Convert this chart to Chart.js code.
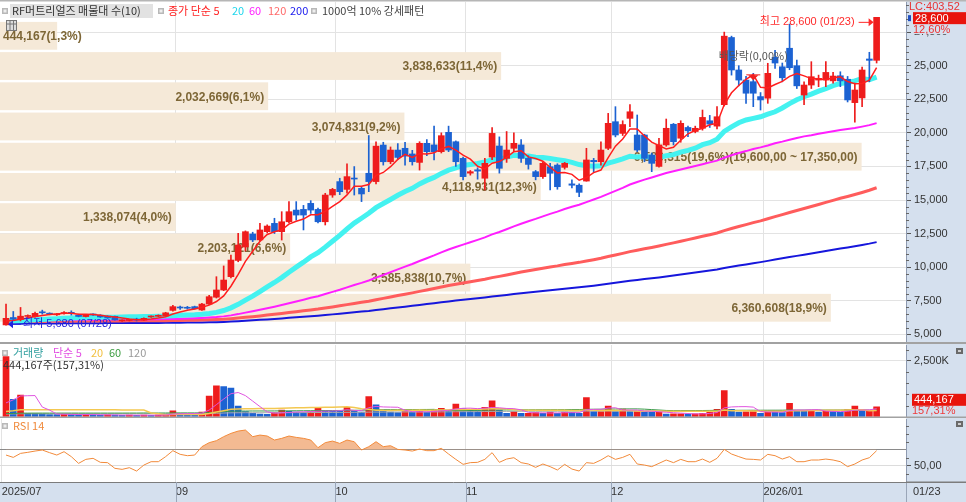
<!DOCTYPE html>
<html><head><meta charset="utf-8"><title>RF머트리얼즈</title>
<script src="https://cdn.jsdelivr.net/npm/chart.js@4.4.1/dist/chart.umd.min.js"></script>
<style>
html,body{margin:0;padding:0;background:#fff;overflow:hidden}
#wrap{position:relative;width:966px;height:502px;background:#fff}
#wrap canvas{position:absolute;left:0}
</style></head><body>
<div id="wrap">
<canvas id="cMain" width="966" height="344" style="top:0"></canvas>
<canvas id="cVol" width="966" height="74" style="top:344px"></canvas>
<canvas id="cRsi" width="966" height="84" style="top:418px"></canvas>
</div>
<script>
// ---------------- DATA ----------------
const monthLabels = ['2025/07','09','10','11','12','2026/01'];
const monthStart  = [0,24,46,64,84,105];
const priceTicks  = [5000,7500,10000,12500,15000,17500,20000,22500,25000,27500];
const volTicks    = [2500];
const rsiTicks    = [50,70];
const lowDate = '07/28', highDate = '01/23';
const exDivIndex = 103;

const open = [
5700,6250,6100,6330,6310,6640,6560,6450,6540,6600,
6440,6320,6480,6420,6350,6340,6000,6030,6090,6060,
6290,6340,6370,6780,7000,6990,7060,6810,7250,7760,
8300,9290,10500,11500,12470,12030,12640,13260,12640,13380,
14250,14300,14750,14300,13380,15370,16370,15790,16620,15870,
16990,16370,19090,17850,18720,18850,18430,17800,19220,19100,
18600,20040,19340,18100,17000,17250,16620,18200,19020,18100,
18850,19100,18100,17110,16740,17480,17600,17430,16200,16100,
16410,17950,17850,18850,20830,19960,21080,19840,19840,18350,
17500,19100,20640,19600,20400,20100,20340,20900,20500,22100,
27100,24680,23930,23810,22700,22580,25620,24920,26300,25000,
22820,23560,23930,23930,23870,24250,23990,22250,22600,25500,
25400];
const high = [
7250,6700,7000,6450,6650,6800,6600,6550,6700,6750,
6500,6480,6520,6460,6380,6360,6080,6120,6200,6220,
6380,6450,6640,7150,7100,7080,7100,7300,7900,9290,
10090,10900,12520,12700,12600,13260,13150,13640,14130,14880,
14880,14600,14950,14400,15500,15870,16620,17690,17490,16000,
19800,19340,19300,18950,19200,19300,18700,19340,19500,20500,
20000,20500,19400,18200,17200,17400,18100,20400,19700,20100,
20000,19500,18300,17200,17800,17730,17700,17800,16500,16200,
18850,18100,19340,21450,21950,20900,22100,21330,19900,18500,
19600,21030,20700,20900,20500,20500,21700,21300,21950,27500,
27200,25000,24200,24430,23000,25180,26150,25200,28100,25420,
23800,25300,24300,25300,24500,24550,24200,23700,24900,26000,
28600];
const low = [
5680,6050,6000,6250,6280,6500,6450,6400,6500,6430,
6300,6290,6400,6260,6180,6050,5960,5990,5990,6040,
6250,6300,6340,6720,6850,6880,6880,6780,7200,7700,
8250,9200,10400,11200,11900,11950,12550,12500,12020,13300,
13500,12770,14000,13300,13140,15200,15400,15500,15370,14880,
15620,16200,17600,17700,18000,17600,17600,17230,18300,17980,
18500,18600,17500,16500,16850,16550,15750,18000,17000,17800,
18600,17800,17300,16500,16600,15750,15800,17300,15900,15250,
16400,17050,17600,18750,19700,19800,20460,18600,17850,17110,
17450,19000,19100,19300,19720,20000,20200,20400,20300,22000,
24300,23500,22200,21950,21700,22200,24800,23800,24700,23300,
22100,23300,23440,23440,23700,23440,22300,20800,21950,23800,
25200];
const close = [
6190,6120,6350,6380,6560,6600,6500,6500,6620,6560,
6330,6440,6440,6290,6220,6070,6030,6080,6060,6190,
6330,6370,6600,7060,6960,6940,6900,7250,7800,8300,
9040,10530,11650,12640,12030,12770,13060,12640,13380,14130,
13880,13880,14250,13380,15370,15790,15620,16740,16560,15450,
16370,19010,17850,18720,18170,18270,17850,19220,18600,18600,
19790,18720,17850,16740,17110,17150,17730,19960,17360,18720,
19220,18100,17650,16740,17730,16990,15990,17730,16100,15570,
17980,17850,18720,20710,19840,20620,21570,18720,18100,17730,
19100,20340,19340,20710,20150,20340,21150,20650,21200,27200,
24680,23930,22950,22950,22450,24430,25200,24100,24850,23500,
23560,24180,24060,24500,24230,23870,22450,23190,24680,25400,
28600];
const ma5 = [
5990,6030,6120,6210,6320,6400,6480,6510,6560,6560,
6500,6490,6480,6410,6340,6290,6210,6140,6090,6090,
6140,6210,6310,6510,6660,6790,6890,7020,7170,7440,
7860,8580,9460,10430,11180,11920,12430,12630,12780,13200,
13420,13580,13900,13900,14150,14530,14880,15380,16020,16030,
16150,16830,17050,17480,18020,18400,18170,18450,18420,18510,
18810,18990,18710,18340,18040,17510,17320,17740,17860,18180,
18600,18670,18210,18090,17890,17440,17020,17040,16910,16470,
16670,17040,17230,18160,19010,19540,20290,20290,19770,19310,
19050,18800,18930,19450,19930,20170,20340,20600,20700,22110,
22980,23530,23990,24340,23390,23340,23600,23830,24210,24420,
24240,24040,24030,23960,24110,24170,23820,23650,23680,23920,
24860];
const ma20 = [
5960,5990,6015,6050,6085,6110,6140,6160,6190,6215,
6225,6240,6260,6265,6270,6275,6285,6300,6310,6330,
6330,6350,6360,6390,6410,6430,6450,6490,6550,6630,
6770,6970,7230,7550,7840,8180,8530,8860,9220,9620,
10000,10370,10760,11070,11490,11930,12370,12840,13280,13640,
14010,14430,14740,15040,15350,15630,15870,16200,16460,16680,
16980,17220,17400,17570,17650,17720,17830,17990,18030,18190,
18330,18290,18280,18180,18160,18090,18000,17920,17800,17640,
17550,17510,17550,17750,17900,18070,18260,18200,18230,18180,
18170,18290,18380,18570,18700,18860,19120,19270,19520,20110,
20440,20750,20960,21080,21200,21390,21570,21850,22180,22470,
22690,22880,23110,23300,23510,23680,23750,23870,24050,23960,
24150];
const ma60 = [
6003,6005,6011,6017,6027,6037,6045,6053,6064,6073,
6079,6086,6093,6098,6102,6103,6103,6105,6106,6109,
6114,6121,6131,6148,6164,6180,6195,6216,6246,6284,
6335,6410,6504,6615,6716,6828,6946,7057,7180,7315,
7447,7578,7715,7838,7995,8158,8318,8497,8673,8831,
9003,9220,9418,9630,9833,10037,10235,10455,10665,10875,
11102,11312,11503,11676,11852,12028,12215,12439,12618,12821,
13036,13230,13417,13591,13783,13965,14131,14325,14492,14647,
14842,15033,15235,15462,15679,15908,16152,16343,16517,16676,
16844,17007,17137,17272,17407,17533,17668,17802,17932,18150,
18330,18497,18642,18802,18920,19064,19224,19346,19484,19619,
19738,19825,19928,20024,20125,20219,20295,20362,20463,20576,
20723];
const ma120 = [
5940,5942,5945,5949,5954,5959,5964,5969,5974,5980,
5983,5987,5991,5994,5997,5998,5998,6000,6001,6003,
6006,6010,6015,6024,6033,6041,6049,6060,6076,6096,
6121,6160,6207,6263,6314,6371,6430,6486,6548,6616,
6682,6749,6818,6880,6959,7041,7121,7211,7300,7379,
7466,7575,7674,7781,7883,7985,8085,8195,8301,8406,
8522,8628,8728,8818,8911,9004,9102,9219,9314,9421,
9532,9633,9731,9821,9919,10011,10095,10193,10278,10357,
10458,10557,10664,10787,10904,11026,11156,11263,11365,11465,
11574,11694,11807,11930,12048,12168,12295,12418,12545,12722,
12878,13028,13170,13312,13449,13604,13764,13915,14073,14219,
14366,14518,14669,14824,14976,15126,15263,15407,15563,15726,
15912];
const ma200 = [
5790,5792,5794,5797,5801,5805,5809,5812,5817,5821,
5823,5826,5830,5832,5834,5836,5837,5838,5840,5842,
5845,5847,5852,5858,5864,5870,5875,5882,5892,5905,
5921,5945,5974,6009,6040,6075,6111,6145,6183,6225,
6265,6306,6348,6386,6434,6484,6533,6588,6642,6690,
6743,6809,6869,6934,6996,7058,7119,7186,7250,7314,
7384,7449,7509,7564,7620,7677,7737,7808,7866,7930,
7997,8059,8118,8173,8233,8289,8340,8400,8451,8500,
8561,8621,8686,8760,8831,8905,8984,9049,9111,9171,
9238,9311,9379,9454,9526,9598,9675,9749,9826,9934,
10028,10119,10204,10290,10374,10467,10564,10655,10751,10839,
10928,11020,11111,11205,11297,11388,11471,11558,11652,11751,
11865];
// volume in thousand shares
const vol = [
2700,780,975,150,140,120,95,90,110,100,
85,95,80,75,80,70,65,75,60,70,
65,70,110,260,150,100,90,210,930,1380,
1350,1290,480,230,150,120,110,180,300,240,
210,180,220,380,260,250,240,420,250,210,
900,530,300,210,180,230,210,270,200,270,
380,300,570,370,300,270,420,710,300,150,
230,150,150,180,150,210,150,210,195,150,
860,225,225,480,225,345,225,230,225,210,
220,120,125,130,120,125,150,210,330,1170,
330,210,220,225,150,255,195,180,600,270,
255,255,210,255,225,195,330,480,255,282.35,
444.167];
const volMa5 = [
620,756,931,941,949,433,296,119,111,103,
96,96,94,87,83,80,74,73,70,68,
67,68,75,115,131,138,142,162,296,542,
792,1032,1086,946,700,454,218,158,172,190,
208,222,230,246,250,258,270,310,284,274,
404,462,438,430,424,290,226,220,218,236,
266,284,344,378,384,362,386,414,400,370,
362,308,196,172,172,168,168,180,183,183,
313,328,331,388,403,300,300,301,250,247,
222,201,180,161,143,124,130,147,187,397,
438,450,452,431,227,212,209,201,276,300,
300,312,318,249,240,228,243,297,297,308,
358];
const volMa20 = [
230,264,308,310,312,313,313,313,313,313,
312,312,311,310,309,307,306,304,302,301,
169,134,90,96,96,95,95,101,142,206,
269,329,349,357,360,363,365,370,382,391,
398,404,409,415,421,428,436,446,412,354,
331,293,284,283,285,290,295,300,295,296,
305,311,328,328,330,331,340,354,357,354,
320,301,294,292,291,290,287,284,283,277,
301,298,280,286,282,286,276,252,248,251,
251,249,248,246,244,240,240,240,247,298,
271,270,270,257,254,249,248,245,264,267,
269,275,280,286,291,295,304,317,313,270,
275];
const volMa60 = [
143,145,160,161,162,162,162,162,163,163,
163,163,163,163,163,163,163,164,164,167,
166,166,167,170,171,171,171,173,185,206,
227,247,253,255,256,257,257,259,262,264,
266,267,269,274,276,278,280,286,288,291,
304,311,314,316,317,319,321,324,325,329,
290,282,276,279,282,285,290,300,303,304,
307,308,309,311,312,314,315,317,319,321,
333,335,337,343,345,348,350,351,339,319,
301,281,275,274,275,276,278,282,287,290,
288,287,288,289,289,290,290,290,297,290,
289,290,290,291,292,292,293,294,293,281,
282];
const volMa120 = [
122,124,131,132,132,132,132,132,132,132,
132,132,132,132,132,132,132,132,132,132,
132,132,132,134,134,134,134,135,142,153,
164,174,177,178,178,178,179,179,181,182,
183,184,185,188,189,190,192,195,196,197,
204,208,210,211,212,213,214,215,216,215,
217,219,223,225,227,229,232,237,239,240,
241,242,242,243,243,244,245,246,247,247,
253,254,255,258,259,261,262,263,264,263,
264,264,264,265,265,265,265,266,268,277,
279,280,281,282,282,283,284,285,289,291,
292,294,295,296,297,298,300,303,304,305,
286];
const rsi = [
63.3,60.4,65.4,66.7,68.3,69.6,66.3,63.3,67.5,61.3,
52.9,57.9,59.2,54.2,53.8,46.7,45.4,47.5,43.3,50.8,
55.0,55.0,61.3,68.8,64.2,62.5,63.3,73.8,78.8,81.3,
86.3,90.4,93.3,94.6,86.3,88.3,87.1,82.1,84.2,87.1,
85.4,84.2,82.1,72.5,78.8,80.8,77.9,82.1,80.0,69.6,
73.8,80.0,73.8,75.0,70.4,69.6,68.3,70.8,68.8,68.8,
71.7,64.6,57.9,51.7,53.8,54.2,57.9,66.3,54.2,58.3,
60.0,53.8,52.1,47.9,52.1,48.8,44.6,51.7,45.8,43.3,
53.8,52.9,57.1,62.5,57.9,60.4,64.2,52.1,50.8,48.8,
52.9,57.1,53.8,57.9,55.0,55.0,58.3,54.2,59.2,70.4,
64.6,61.3,58.3,57.9,57.1,64.2,62.5,58.3,61.3,55.0,
55.0,57.1,57.1,58.3,57.1,55.0,48.8,52.1,57.1,60.0,
68.8];
// volume profile (매물대) : band top price, shares, percent
const profTop = [28350,26100,23850,21600,19350,17100,14850,12600,10350,8100];
const profVol = [444167,3838633,2032669,3074831,6586315,4118931,1338074,2203121,3585838,6360608];
const profPct = [1.3,11.4,6.1,9.2,19.6,12.3,4.0,6.6,10.7,18.9];
const profStep = 2250;
const profRangeHi = 19600, profRangeLo = 17350;

// ---------------- STYLE ----------------
const XMIN = -0.83, XMAX = 124.05;
const UP = '#ee1c1c', DOWN = '#1c62d2';
const AXIS_BG = '#d5e0ee';
const GRID = '#e3e3e3';
const FONT = "'Liberation Sans','Noto Sans CJK KR',sans-serif";
const F11 = "11px " + FONT;
const KF = "11px 'Noto Sans CJK KR','Liberation Sans',sans-serif";
Chart.defaults.font.family = FONT;
Chart.defaults.font.size = 11;

const fmt = n => Math.round(n).toLocaleString('en-US');
const dec = (n, d) => n.toFixed(d).replace('.', ',');
const pts = arr => arr.map((v, i) => ({x: i, y: v}));

function T(ctx, s, x, y, color, font, align) {
  ctx.save(); ctx.font = font || F11; ctx.fillStyle = color; ctx.textAlign = align || 'left';
  ctx.textBaseline = 'middle'; ctx.fillText(s, x, y); ctx.restore();
}
function icon(ctx, x, y) {
  ctx.save(); ctx.fillStyle = '#b8b8b8'; ctx.fillRect(x, y - 3, 6, 6);
  ctx.fillStyle = '#eeeeee'; ctx.fillRect(x + 1.5, y - 1.5, 3, 3); ctx.restore();
}
function panelIcon(ctx, x, y) {
  ctx.save(); ctx.fillStyle = '#6a6a6a'; ctx.fillRect(x, y, 7, 6);
  ctx.fillStyle = '#cfcfcf'; ctx.fillRect(x + 2, y + 2, 3, 2); ctx.restore();
}
function redBox(ctx, x0, x1, yc, label) {
  ctx.save(); ctx.fillStyle = '#e8140c'; ctx.fillRect(x0, yc - 6, x1 - x0, 12); ctx.restore();
  T(ctx, label, x0 + 2, yc + 0.5, '#ffffff');
}
function hsep(ctx, y, w) { ctx.save(); ctx.fillStyle = '#a2a2a2'; ctx.fillRect(0, y, w, 2); ctx.restore(); }

function xCfg(withLabels) {
  return {
    type: 'linear', min: XMIN, max: XMAX, offset: false,
    afterBuildTicks(s) { s.ticks = (withLabels ? monthStart : monthStart.slice(1)).map(v => ({value: v - 0.6})); },
    ticks: withLabels
      ? {display: true, autoSkip: false, maxRotation: 0, minRotation: 0, align: 'start', padding: 3,
         color: '#333', font: {size: 11}, callback: (v, i) => monthLabels[i]}
      : {display: false},
    grid: {display: true, offset: false, color: GRID, drawTicks: false},
    border: {display: withLabels, color: '#7c7c7c'},
    afterFit(s) { s.height = withLabels ? 20 : 0; s.paddingLeft = 0; s.paddingRight = 0; }
  };
}
function yCfg(extra) {
  return Object.assign({
    position: 'right',
    afterFit(s) { s.width = 60; s.paddingTop = 0; s.paddingBottom = 0; },
    border: {display: true, color: '#8e9ab0'},
    grid: {color: GRID, drawTicks: true, tickLength: 5, tickColor: '#555'},
    ticks: {color: '#333', font: {size: 11}, padding: 3, autoSkip: false}
  }, extra);
}
const baseOpts = {
  responsive: false, animation: false, events: [],
  plugins: {legend: {display: false}, tooltip: {enabled: false}}
};
const axisBg = {
  id: 'axisBg',
  beforeDraw(chart) {
    const {ctx, chartArea: a, width, height} = chart;
    ctx.save(); ctx.fillStyle = AXIS_BG; ctx.fillRect(a.right, 0, width - a.right, height); ctx.restore();
  }
};

// ---------------- MAIN PRICE CHART ----------------
const candleColor = close.map((c, i) => c >= open[i] ? UP : DOWN);
const mainOverlay = {
  id: 'mainOverlay',
  beforeDatasetsDraw(chart) {
    const {ctx, chartArea: a, scales: {y}} = chart;
    const maxPct = Math.max(...profPct);
    const maxK = profPct.indexOf(maxPct);
    ctx.save();
    ctx.beginPath(); ctx.rect(a.left, a.top, a.width, a.height); ctx.clip();
    profTop.forEach((top, k) => {
      const y0 = y.getPixelForValue(top) + 1.2, y1 = y.getPixelForValue(top - profStep) - 1.2;
      const w = profPct[k] / maxPct * 0.951 * a.width;
      ctx.fillStyle = '#f5e9d8'; ctx.fillRect(a.left, y0, w, y1 - y0);
      let s = fmt(profVol[k]) + '(' + dec(profPct[k], 1) + '%)';
      if (k === maxK) s += '(' + fmt(profRangeHi) + ',00 ~ ' + fmt(profRangeLo) + ',00)';
      ctx.font = "bold 12px 'Liberation Sans',sans-serif";
      const tw = ctx.measureText(s).width;
      let tx = a.left + w - 4 - tw; if (tx < a.left + 3) tx = a.left + 3;
      ctx.fillStyle = '#7d6636'; ctx.textBaseline = 'middle'; ctx.textAlign = 'left';
      ctx.fillText(s, tx, (y0 + y1) / 2 + 1);
    });
    ctx.restore();
  },
  afterDraw(chart) {
    const {ctx, chartArea: a, scales: {x, y}, width} = chart;
    // minor ticks on price axis
    ctx.save(); ctx.strokeStyle = '#666'; ctx.lineWidth = 1; ctx.beginPath();
    for (let v = 5000; v < 29700; v += 500) {
      if (v % 2500 === 0) continue;
      const py = Math.round(y.getPixelForValue(v)) + 0.5;
      ctx.moveTo(a.right, py); ctx.lineTo(a.right + 3, py);
    }
    ctx.stroke(); ctx.restore();
    // highest
    const hi = Math.max(...high), hiI = high.indexOf(hi);
    let px = x.getPixelForValue(hiI), py = y.getPixelForValue(hi) + 5;
    ctx.save(); ctx.strokeStyle = '#ff2a2a'; ctx.fillStyle = '#ff2a2a'; ctx.lineWidth = 1;
    ctx.beginPath(); ctx.moveTo(px - 18, py); ctx.lineTo(px - 6, py); ctx.stroke();
    ctx.beginPath(); ctx.moveTo(px - 3, py); ctx.lineTo(px - 8, py - 4); ctx.lineTo(px - 8, py + 4); ctx.closePath(); ctx.fill();
    ctx.restore();
    T(ctx, '최고 ' + fmt(hi) + ' (' + highDate + ')', px - 22, py, '#ff2a2a', F11, 'right');
    // lowest
    const lo = Math.min(...low), loI = low.indexOf(lo);
    px = x.getPixelForValue(loI); py = y.getPixelForValue(lo) - 1;
    ctx.save(); ctx.strokeStyle = '#2020e0'; ctx.fillStyle = '#2020e0';
    ctx.beginPath(); ctx.moveTo(px + 6, py); ctx.lineTo(px + 15, py); ctx.stroke();
    ctx.beginPath(); ctx.moveTo(px + 2, py); ctx.lineTo(px + 7, py - 4); ctx.lineTo(px + 7, py + 4); ctx.closePath(); ctx.fill();
    ctx.restore();
    T(ctx, '최저 ' + fmt(lo) + ' (' + lowDate + ')', px + 17, py, '#2424dc');
    // ex-dividend marker
    px = x.getPixelForValue(exDivIndex); py = y.getPixelForValue(high[exDivIndex]);
    ctx.save(); ctx.fillStyle = '#f02020'; ctx.strokeStyle = '#f02020';
    ctx.beginPath(); ctx.moveTo(px - 5, py + 2); ctx.lineTo(px + 5, py + 2); ctx.lineTo(px, py + 7); ctx.closePath(); ctx.fill();
    ctx.beginPath(); ctx.moveTo(px - 7, py + 1.5); ctx.lineTo(px + 7, py + 1.5); ctx.stroke();
    ctx.restore();
    T(ctx, '배당락(0,00%)', px, py - 18, '#555', KF, 'center');
    // legend
    icon(ctx, 2, 11);
    ctx.save(); ctx.fillStyle = '#e2e2e2'; ctx.fillRect(10, 4, 143, 14); ctx.restore();
    T(ctx, 'RF머트리얼즈 매물대 수(10)', 12, 11, '#333', KF);
    icon(ctx, 158, 11);
    T(ctx, '종가 단순 5', 168, 11, '#ff2020', KF);
    T(ctx, '20', 232, 11, '#1ed6ec', KF);
    T(ctx, '60', 249, 11, '#ff20ff', KF);
    T(ctx, '120', 268, 11, '#ff6a6a', KF);
    T(ctx, '200', 290, 11, '#2020ee', KF);
    icon(ctx, 311, 11);
    T(ctx, '1000억 10% 강세패턴', 322, 11, '#444', KF);
    // small table icon
    ctx.save(); ctx.strokeStyle = '#777'; ctx.fillStyle = '#ddd'; ctx.fillRect(6, 20, 11, 11); ctx.strokeRect(6.5, 20.5, 10, 10);
    ctx.beginPath(); ctx.moveTo(6.5, 24); ctx.lineTo(16.5, 24); ctx.moveTo(10, 20.5); ctx.lineTo(10, 30.5); ctx.moveTo(13.5, 20.5); ctx.lineTo(13.5, 30.5); ctx.stroke(); ctx.restore();
    // right axis labels
    const last = close[close.length - 1], prev = close[close.length - 2];
    T(ctx, 'LC:403,52', a.right + 3, 7, '#e83434');
    const cy = y.getPixelForValue(last) + 0.8;
    ctx.save(); ctx.fillStyle = '#2050c0'; ctx.fillRect(a.right + 2, cy - 3, 3, 6); ctx.restore();
    redBox(ctx, a.right + 7, width, cy, fmt(last));
    ctx.save(); ctx.fillStyle = AXIS_BG; ctx.fillRect(a.right + 6, cy + 7, width - a.right - 6, 9); ctx.restore();
    T(ctx, dec((last / prev - 1) * 100, 2) + '%', a.right + 7, cy + 12, '#ee3030');
    // borders
    ctx.save(); ctx.fillStyle = '#b6b6b6'; ctx.fillRect(0, 0, width, 1.5); ctx.restore();
    hsep(ctx, 342, width);
  }
};
new Chart(document.getElementById('cMain'), {
  type: 'bar',
  data: {datasets: [
    {type: 'line', data: pts(ma5), borderColor: '#ff1e1e', borderWidth: 1.5, pointRadius: 0, order: 0},
    {type: 'bar', data: open.map((o, i) => ({x: i, y: [o, close[i]]})), backgroundColor: candleColor,
     borderWidth: 0, barThickness: 6, minBarLength: 1, grouped: false, order: 1},
    {type: 'bar', data: low.map((l, i) => ({x: i, y: [l, high[i]]})), backgroundColor: candleColor,
     borderWidth: 0, barThickness: 1, minBarLength: 1, grouped: false, order: 2},
    {type: 'line', data: pts(ma20), borderColor: '#44f2f0', borderWidth: 5, pointRadius: 0, order: 3},
    {type: 'line', data: pts(ma60), borderColor: '#ff1eff', borderWidth: 2, pointRadius: 0, order: 4},
    {type: 'line', data: pts(ma120), borderColor: '#ff5c5c', borderWidth: 3, pointRadius: 0, order: 5},
    {type: 'line', data: pts(ma200), borderColor: '#1616dc', borderWidth: 2, pointRadius: 0, order: 6}
  ]},
  options: Object.assign({}, baseOpts, {
    layout: {padding: {top: 2, bottom: 2, left: 0, right: 0}},
    scales: {
      x: xCfg(false),
      y: yCfg({min: 4427, max: 29743,
        afterBuildTicks(s) { s.ticks = priceTicks.map(v => ({value: v})); },
        ticks: {color: '#333', font: {size: 11}, padding: 3, autoSkip: false, callback: v => fmt(v)}})
    }
  }),
  plugins: [axisBg, mainOverlay]
});

// ---------------- VOLUME CHART ----------------
const volColor = vol.map((v, i) => (i === 0 || v >= vol[i - 1]) ? UP : DOWN);
const volOverlay = {
  id: 'volOverlay',
  afterDraw(chart) {
    const {ctx, chartArea: a, scales: {y}, width} = chart;
    icon(ctx, 2, 9);
    T(ctx, '거래량', 13, 9, '#33a0a0', KF);
    T(ctx, '단순 5', 53, 9, '#e24ee2', KF);
    T(ctx, '20', 91, 9, '#f2c040', KF);
    T(ctx, '60', 109, 9, '#3c9c40', KF);
    T(ctx, '120', 128, 9, '#9a9a9a', KF);
    const last = vol[vol.length - 1], prev = vol[vol.length - 2];
    T(ctx, fmt(last * 1000) + '주(' + dec(last / prev * 100, 2) + '%)', 3, 21, '#333', KF);
    // minor ticks
    ctx.save(); ctx.strokeStyle = '#666'; ctx.beginPath();
    for (let v = 500; v < 3200; v += 500) { if (v === 2500) continue; const py = Math.round(y.getPixelForValue(v)) + 0.5; ctx.moveTo(a.right, py); ctx.lineTo(a.right + 3, py); }
    ctx.stroke(); ctx.restore();
    const cy = y.getPixelForValue(last) - 7;
    redBox(ctx, a.right + 6, width, cy, fmt(last * 1000));
    T(ctx, dec(last / prev * 100, 2) + '%', a.right + 6, cy + 11, '#ee3a3a');
    panelIcon(ctx, 956, 4);
    hsep(ctx, 72.5, width);
  }
};
new Chart(document.getElementById('cVol'), {
  type: 'bar',
  data: {datasets: [
    {type: 'line', data: pts(volMa5), borderColor: '#e055e0', borderWidth: 1, pointRadius: 0, order: 0},
    {type: 'line', data: pts(volMa20), borderColor: '#f3c850', borderWidth: 1.5, pointRadius: 0, order: 1},
    {type: 'line', data: pts(volMa60), borderColor: '#3a9a48', borderWidth: 1, pointRadius: 0, order: 2},
    {type: 'line', data: pts(volMa120), borderColor: '#a8a8a8', borderWidth: 1, pointRadius: 0, order: 3},
    {type: 'bar', data: pts(vol), backgroundColor: volColor, borderWidth: 0, barThickness: 6, grouped: false, order: 4}
  ]},
  options: Object.assign({}, baseOpts, {
    layout: {padding: {top: 1, bottom: 1.3, left: 0, right: 0}},
    scales: {
      x: xCfg(false),
      y: yCfg({min: 0, max: 3218,
        afterBuildTicks(s) { s.ticks = volTicks.map(v => ({value: v})); },
        ticks: {color: '#333', font: {size: 11}, padding: 3, autoSkip: false, callback: v => fmt(v) + 'K'}})
    }
  }),
  plugins: [axisBg, volOverlay]
});

// ---------------- RSI CHART ----------------
const rsiOverlay = {
  id: 'rsiOverlay',
  beforeDraw(chart) {
    const {ctx, chartArea: a, width, height} = chart;
    ctx.save(); ctx.fillStyle = AXIS_BG; ctx.fillRect(0, a.bottom, width, height - a.bottom); ctx.restore();
  },
  afterDraw(chart) {
    const {ctx, chartArea: a, scales: {x, y}, width, height} = chart;
    icon(ctx, 2, 8);
    T(ctx, 'RSI 14', 13, 8, '#f08a3c', KF);
    panelIcon(ctx, 956, 3);
    ctx.save(); ctx.strokeStyle = '#666'; ctx.beginPath();
    [40, 60, 80, 90, 100].forEach(v => { const py = Math.round(y.getPixelForValue(v)) + 0.5; ctx.moveTo(a.right, py); ctx.lineTo(a.right + 3, py); });
    ctx.stroke();
    // date row separators
    ctx.strokeStyle = '#9aa6b8'; ctx.beginPath();
    monthStart.slice(1).forEach(v => { const px = Math.round(x.getPixelForValue(v - 0.6)) + 0.5; ctx.moveTo(px, a.bottom); ctx.lineTo(px, height); });
    ctx.moveTo(a.right + 0.5, a.bottom); ctx.lineTo(a.right + 0.5, height);
    ctx.stroke();
    ctx.fillStyle = '#7c7c7c'; ctx.fillRect(a.right, a.bottom - 0.5, width - a.right, 1.5);
    ctx.restore();
    T(ctx, highDate, a.right + 7, a.bottom + 10, '#333');
  }
};
new Chart(document.getElementById('cRsi'), {
  type: 'line',
  data: {datasets: [
    {data: pts(rsi), borderColor: '#f28a3a', borderWidth: 1, pointRadius: 0,
     fill: {target: {value: 70}, above: 'rgba(242,178,134,0.9)', below: 'rgba(0,0,0,0)'}}
  ]},
  options: Object.assign({}, baseOpts, {
    layout: {padding: {top: 1, bottom: 0, left: 0, right: 0}},
    scales: {
      x: xCfg(true),
      y: yCfg({min: 29.6, max: 108.4,
        afterBuildTicks(s) { s.ticks = rsiTicks.map(v => ({value: v})); },
        grid: {color: c => (c.tick && c.tick.value === 70) ? '#8a8a8a' : '#dcdcdc', drawTicks: true, tickLength: 5,
               tickColor: c => (c.tick && c.tick.value === 70) ? 'rgba(0,0,0,0)' : '#555'},
        ticks: {color: '#333', font: {size: 11}, padding: 3, autoSkip: false, callback: v => v === 50 ? dec(v, 2) : ''}})
    }
  }),
  plugins: [axisBg, rsiOverlay]
});
</script></body></html>
